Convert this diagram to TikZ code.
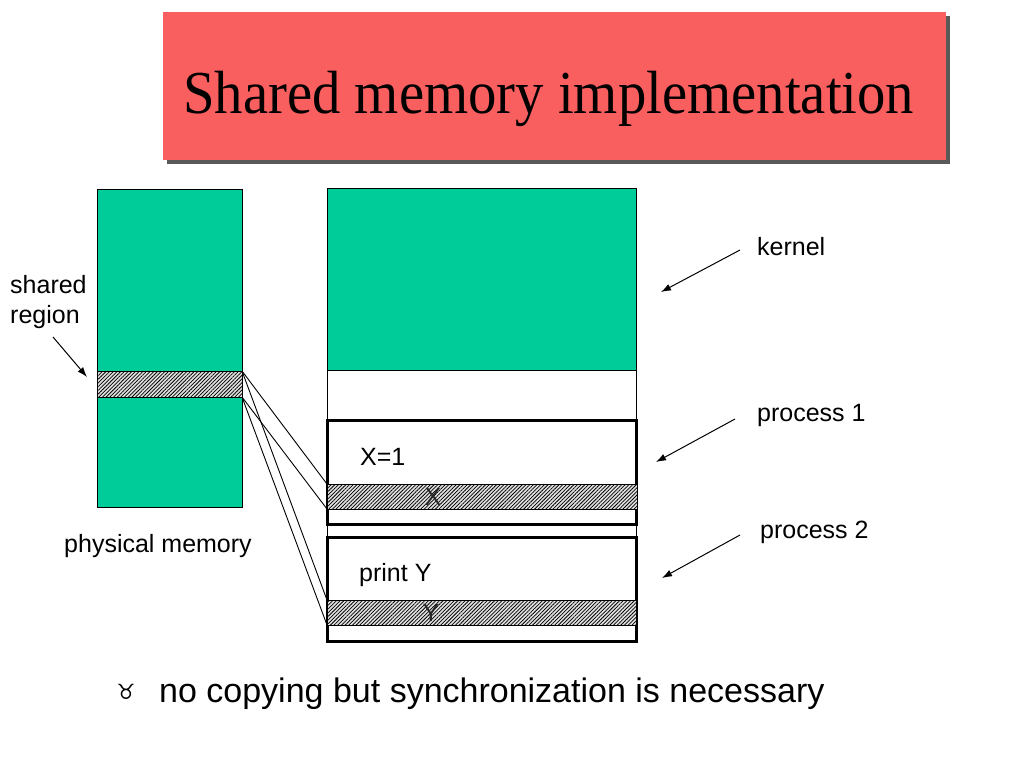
\documentclass[tikz,border=0pt]{standalone}
\usepackage{fontspec}
\setmainfont{Liberation Sans}
\newfontfamily\titlefont{Liberation Serif}
\newfontfamily\symfont{DejaVu Sans}
\usetikzlibrary{patterns.meta,arrows.meta}
\definecolor{memgreen}{RGB}{0,204,153}
\definecolor{titlered}{RGB}{250,95,95}
\tikzset{
  blk/.style={anchor=north west,inner sep=0pt,outer sep=0pt},
  greenbox/.style={blk,draw=black,line width=0.9pt,fill=memgreen},
  hatchband/.style={blk,draw=black,line width=0.9pt,fill=white!88!black,postaction={pattern={Lines[angle=45,distance=2.6pt,line width=0.75pt]}}},
  procbox/.style={blk,draw=black,line width=3pt},
  lbl/.style={anchor=base west,inner sep=0pt,font=\fontsize{25}{30}\selectfont},
  ptr/.style={line width=1pt,-{Latex[length=10pt,width=7pt]}},
  link/.style={line width=0.9pt}
}
\begin{document}
\begin{tikzpicture}[x=1pt,y=-1pt]
\useasboundingbox (0,0) rectangle (1024,768);
% title
\fill[black!65] (167,16) rectangle (950,164);
\node[blk,fill=titlered,minimum width=783pt,minimum height=148pt] (titlebox) at (163,12) {};
\node[anchor=base west,inner sep=0pt,font=\titlefont\fontsize{61}{70}\selectfont,xscale=0.93] (title) at (183,113) {Shared memory implementation};
% physical memory
\node[greenbox,minimum width=145pt,minimum height=318pt] (phys) at (97,189) {};
\node[hatchband,minimum width=145pt,minimum height=26pt] (sh) at (97,371) {};
% address space column
\node[blk,draw=black,line width=0.9pt,minimum width=309pt,minimum height=453pt] (col) at (327,188) {};
\node[greenbox,minimum width=309pt,minimum height=182pt] (kern) at (327,188) {};
\node[procbox,minimum width=309pt,minimum height=104pt] (p1) at (327,420) {};
\node[hatchband,minimum width=310pt,minimum height=25pt] (xb) at (327,484) {};
\node[procbox,minimum width=309pt,minimum height=104pt] (p2) at (327,537) {};
\node[hatchband,minimum width=309pt,minimum height=25pt] (yb) at (327,600) {};
% connectors
\draw[link] (sh.north east) -- (xb.north west);
\draw[link] (sh.south east) -- (xb.south west);
\draw[link] (sh.north east) -- (yb.north west);
\draw[link] (sh.south east) -- (yb.south west);
% texts
\node[lbl] (t1) at (10,293) {shared};
\node[lbl] (t2) at (10,323) {region};
\node[lbl] (tphys) at (64,552) {physical memory};
\node[lbl] (tk) at (757,255) {kernel};
\node[lbl] (tp1) at (757,421) {process 1};
\node[lbl] (tp2) at (760,538) {process 2};
\node[lbl] (tx1) at (360,465) {X=1};
\node[lbl] (tpy) at (359,581) {print Y};
\node[anchor=base,inner sep=0pt,font=\fontsize{25}{30}\selectfont,text=black!85] (tx) at (433,505) {X};
\node[anchor=base,inner sep=0pt,font=\fontsize{25}{30}\selectfont,text=black!85] (ty) at (431,621) {Y};
% pointers
\coordinate (a1s) at (53,337); \coordinate (a1e) at (87,377);
\coordinate (a2s) at (740,250); \coordinate (a2e) at (661,292);
\coordinate (a3s) at (735,419); \coordinate (a3e) at (656,462);
\coordinate (a4s) at (740,535); \coordinate (a4e) at (662,578);
\draw[ptr] (a1s) -- (a1e);
\draw[ptr] (a2s) -- (a2e);
\draw[ptr] (a3s) -- (a3e);
\draw[ptr] (a4s) -- (a4e);
% bullet
\node[inner sep=0pt,font=\symfont\fontsize{21}{24}\selectfont] (bul) at (126,692) {♉};
\node[anchor=base west,inner sep=0pt,font=\fontsize{34}{40}\selectfont] (bt) at (159,702) {no copying but synchronization is necessary};
\end{tikzpicture}
\end{document}
